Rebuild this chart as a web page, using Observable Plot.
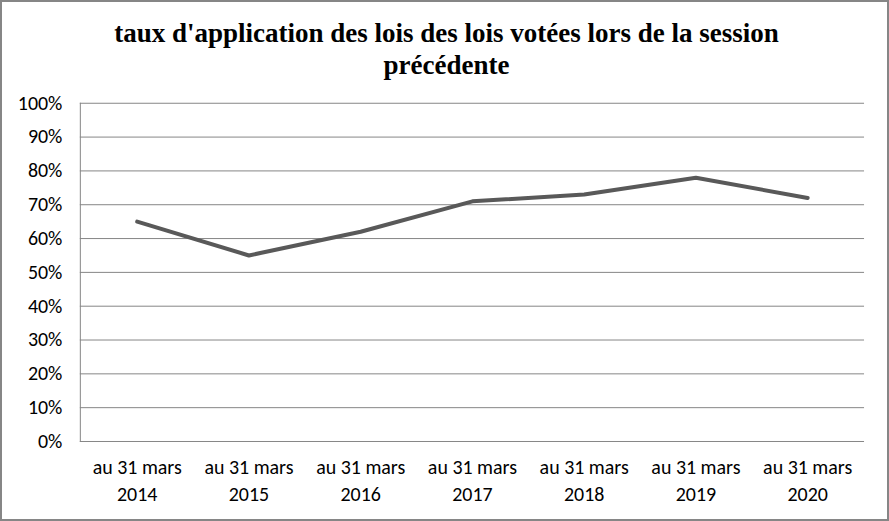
<!DOCTYPE html>
<html><head><meta charset="utf-8">
<script src="https://cdn.jsdelivr.net/npm/d3@7"></script>
<script src="https://cdn.jsdelivr.net/npm/@observablehq/plot@0.6"></script>
<style>
body{margin:0;background:#fff;}
#wrap{position:relative;width:889px;height:521px;box-sizing:border-box;border:2px solid #868686;overflow:hidden;background:#fff;}
#title{position:absolute;left:0;top:15px;width:889px;text-align:center;font-family:"Liberation Serif",serif;font-weight:bold;font-size:27px;line-height:32px;color:#000;}
#chart{position:absolute;left:-2px;top:-2px;}
</style></head>
<body>
<div id="wrap"><div id="title">taux d'application des lois des lois votées lors de la session<br>précédente</div><div id="chart"></div></div>
<script>
const categories = ["au 31 mars\n2014","au 31 mars\n2015","au 31 mars\n2016","au 31 mars\n2017","au 31 mars\n2018","au 31 mars\n2019","au 31 mars\n2020"];
const values = [0.65, 0.55, 0.62, 0.71, 0.73, 0.78, 0.72];
const yTicks = [0,0.1,0.2,0.3,0.4,0.5,0.6,0.7,0.8,0.9,1];
const data = categories.map((c,i)=>({cat:c, v:values[i]}));
const chart = Plot.plot({
  width: 889, height: 521,
  marginTop: 103, marginBottom: 79, marginLeft: 80, marginRight: 23,
  style: {fontFamily: "Carlito, Lato, sans-serif", fontSize: "20px", color: "#000", background: "transparent"},
  x: {type: "point", domain: categories, padding: 0.5},
  y: {domain: [0, 1]},
  marks: [
    Plot.gridY(yTicks, {stroke: "#868686", strokeOpacity: 1, strokeWidth: 1}),
    Plot.frame({anchor: "left", stroke: "#868686"}),
    Plot.axisY(yTicks, {tickSize: 0, tickPadding: 18, tickFormat: d => Math.round(d*100) + "%", label: null, fontSize: 20}),
    Plot.axisX({tickSize: 0, tickPadding: 13, label: null, lineHeight: 1.35, fontSize: 20}),
    Plot.line(data, {x: "cat", y: "v", stroke: "#595959", strokeWidth: 4})
  ]
});
document.getElementById("chart").appendChild(chart);
</script>
</body></html>
